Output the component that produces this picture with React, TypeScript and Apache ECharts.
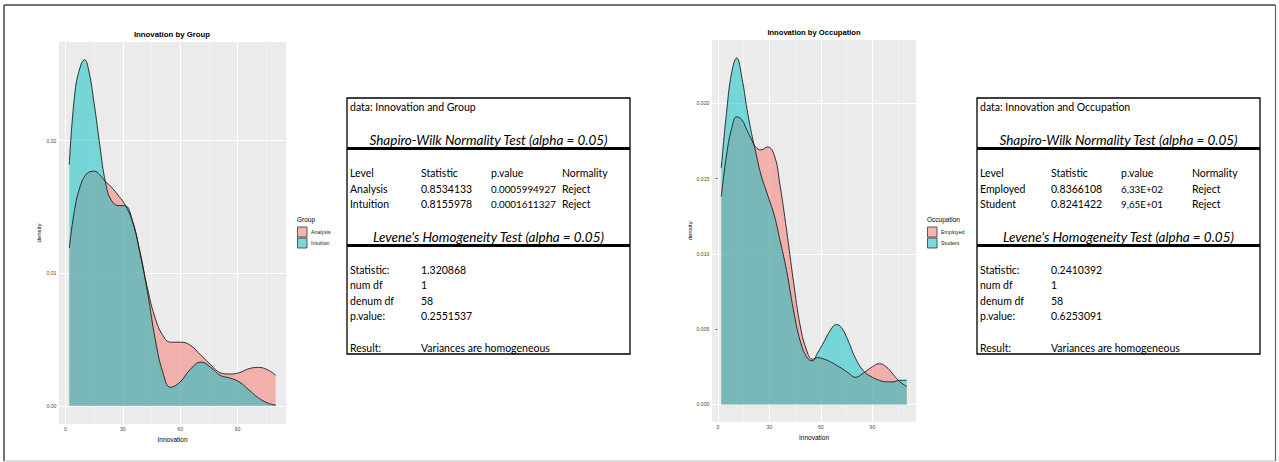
import React, { useEffect, useRef } from "react";
import * as echarts from "echarts";

// ---------- Data: Innovation by Group ----------
const groupX = [2, 5, 8, 10, 12, 15, 18, 21, 24, 28, 31, 35, 39, 43, 47, 51, 55, 60, 65, 71, 76, 81, 86, 91, 96, 101, 106, 110];
const analysisDensity = [0.0119, 0.015, 0.0167, 0.0173, 0.0176, 0.0177, 0.0174, 0.0169, 0.0165, 0.0158, 0.0152, 0.0139, 0.0116, 0.0088, 0.0066, 0.0053, 0.0048, 0.0048, 0.0046, 0.0038, 0.0031, 0.0025, 0.0024, 0.0025, 0.0028, 0.0029, 0.0027, 0.0023];
const intuitionDensity = [0.0182, 0.0237, 0.0257, 0.0261, 0.0254, 0.0228, 0.0196, 0.0168, 0.0155, 0.0151, 0.0151, 0.014, 0.0115, 0.0085, 0.005, 0.0025, 0.0014, 0.0018, 0.0027, 0.0033, 0.0029, 0.0023, 0.0021, 0.0018, 0.0012, 0.0006, 0.0002, 0.00005];

// ---------- Data: Innovation by Occupation ----------
const occX = [2, 5, 8, 11, 14, 17, 20, 22, 25, 29, 33, 36, 40, 44, 48, 52, 55, 58, 62, 66, 69, 72, 76, 80, 85, 90, 94, 98, 102, 106, 110];
const employedDensity = [0.0138, 0.0165, 0.0183, 0.0191, 0.0189, 0.0182, 0.0175, 0.0171, 0.0169, 0.0171, 0.0165, 0.0147, 0.0116, 0.0082, 0.0052, 0.0035, 0.003, 0.0031, 0.003, 0.0028, 0.0026, 0.0024, 0.0021, 0.0018, 0.0021, 0.0025, 0.0027, 0.0025, 0.002, 0.0015, 0.0012];
const studentDensity = [0.0157, 0.0193, 0.022, 0.023, 0.0217, 0.0196, 0.0178, 0.0168, 0.0153, 0.0139, 0.0125, 0.011, 0.0089, 0.0063, 0.0042, 0.0031, 0.0029, 0.0034, 0.0042, 0.005, 0.0053, 0.0051, 0.0042, 0.0031, 0.0022, 0.0018, 0.0016, 0.0015, 0.0015, 0.0016, 0.0016];

// ---------- Axis ticks ----------
const xTicks = [0, 30, 60, 90];
const xMinor = [15, 45, 75, 105];
const groupYTicks = [0, 0.01, 0.02];
const groupYMinor = [0.005, 0.015, 0.025];
const occYTicks = [0, 0.005, 0.01, 0.015, 0.02];
const occYMinor = [0.0025, 0.0075, 0.0125, 0.0175, 0.0225];

// ---------- Table data ----------
const shapiroHeader = ["Level", "Statistic", "p.value", "Normality"];
const leveneLabels = ["Statistic:", "num df", "denum df", "p.value:"];
const groupLevels = ["Analysis", "Intuition"];
const groupStatistic = ["0.8534133", "0.8155978"];
const groupPValue = ["0.0005994927", "0.0001611327"];
const groupNormality = ["Reject", "Reject"];
const groupLevene = ["1.320868", "1", "58", "0.2551537"];
const occLevels = ["Employed", "Student"];
const occStatistic = ["0.8366108", "0.8241422"];
const occPValue = ["6,33E+02", "9,65E+01"];
const occNormality = ["Reject", "Reject"];
const occLevene = ["0.2410392", "1", "58", "0.6253091"];
const leveneResult = "Variances are homogeneous";

const RED = "#F8766D";
const TEAL = "#00BFC4";
const GG_FONT = "'Liberation Sans', Arial, sans-serif";
const TABLE_FONT = "Lato, 'Open Sans', sans-serif";

function zip(xs: number[], ys: number[]) {
  return xs.map((x, i) => [x, ys[i]]);
}

function txt(x: number, y: number, text: string, opts: any = {}) {
  const align = opts.align || "left";
  return {
    type: "text",
    x,
    y,
    silent: true,
    z: 10,
    style: {
      text,
      fontSize: 10.5,
      fontFamily: TABLE_FONT,
      fill: "#000",
      align,
      verticalAlign: "middle",
      textAlign: align,
      textVerticalAlign: "middle",
      ...opts,
    },
  };
}

function buildTable(dx: number, title: string, levels: string[], stats: string[], pvals: string[], norms: string[], levene: string[]) {
  const L = 347 + dx;
  const R = 630 + dx;
  const cols = [350 + dx, 421 + dx, 491 + dx, 562 + dx];
  const els: any[] = [];
  els.push({ type: "rect", z: 9, shape: { x: L, y: 98, width: R - L, height: 256 }, style: { fill: "#fff", stroke: "#000", lineWidth: 1.3 } });
  els.push({ type: "line", z: 9, shape: { x1: L, y1: 148.5, x2: R, y2: 148.5 }, style: { stroke: "#000", lineWidth: 2.8 } });
  els.push({ type: "line", z: 9, shape: { x1: L, y1: 245.5, x2: R, y2: 245.5 }, style: { stroke: "#000", lineWidth: 2.8 } });
  els.push(txt(cols[0], 106.5, title));
  els.push(txt((L + R) / 2, 140, "Shapiro-Wilk Normality Test (alpha = 0.05)", { align: "center", fontSize: 13.5, fontStyle: "italic" }));
  shapiroHeader.forEach((h, i) => els.push(txt(cols[i], 173, h)));
  const rowY = [188.5, 204];
  levels.forEach((lv, r) => {
    els.push(txt(cols[0], rowY[r], lv));
    els.push(txt(cols[1], rowY[r], stats[r]));
    els.push(txt(cols[2], rowY[r], pvals[r], { fontSize: 9.8 }));
    els.push(txt(cols[3], rowY[r], norms[r]));
  });
  els.push(txt((L + R) / 2, 236.5, "Levene's Homogeneity Test (alpha = 0.05)", { align: "center", fontSize: 13.5, fontStyle: "italic" }));
  const levY = [270, 285.3, 300.7, 316];
  leveneLabels.forEach((lb, i) => {
    els.push(txt(cols[0], levY[i], lb));
    els.push(txt(cols[1], levY[i], levene[i]));
  });
  els.push(txt(cols[0], 347.5, "Result:"));
  els.push(txt(cols[1], 347.5, leveneResult));
  return els;
}

function legend(x: number, title: string, labels: string[]) {
  const fills = ["#F5B4B0", "#79D8DB"];
  const els: any[] = [];
  els.push(txt(x, 219, title, { fontFamily: GG_FONT, fontSize: 6.5 }));
  labels.forEach((lb, i) => {
    const y = 227 + i * 11;
    els.push({ type: "rect", z: 10, shape: { x: x + 0.5, y, width: 9.5, height: 10 }, style: { fill: fills[i], stroke: "#333", lineWidth: 0.8 } });
    els.push(txt(x + 14, y + 5, lb, { fontFamily: GG_FONT, fontSize: 5.3, fill: "#1a1a1a" }));
  });
  return els;
}

function gridLines(yMajor: number[], yMinor: number[]) {
  const major = { color: "#FFFFFF", width: 1.1, type: "solid" };
  const minor = { color: "#F7F7F7", width: 0.55, type: "solid" };
  return [
    ...xMinor.map((v) => ({ xAxis: v, lineStyle: minor })),
    ...yMinor.map((v) => ({ yAxis: v, lineStyle: minor })),
    ...xTicks.map((v) => ({ xAxis: v, lineStyle: major })),
    ...yMajor.map((v) => ({ yAxis: v, lineStyle: major })),
  ];
}

function xAxisCfg(gridIndex: number) {
  return {
    type: "value",
    gridIndex,
    min: -3.4,
    max: 115.4,
    name: "Innovation",
    nameLocation: "middle",
    nameGap: 9.5,
    nameTextStyle: { fontFamily: GG_FONT, fontSize: 6.5, color: "#000" },
    axisLine: { show: false },
    axisTick: { show: true, customValues: xTicks, length: 2.5, lineStyle: { color: "#333", width: 0.6 } },
    axisLabel: { customValues: xTicks, fontFamily: GG_FONT, fontSize: 5.2, color: "#4D4D4D", margin: 2.5 },
    splitLine: { show: false },
  };
}

function yAxisCfg(gridIndex: number, min: number, max: number, ticks: number[], digits: number) {
  return {
    type: "value",
    gridIndex,
    min,
    max,
    name: "density",
    nameLocation: "middle",
    nameGap: 17,
    nameRotate: 90,
    nameTextStyle: { fontFamily: GG_FONT, fontSize: 6, color: "#000" },
    axisLine: { show: false },
    axisTick: { show: true, customValues: ticks, length: 2.5, lineStyle: { color: "#333", width: 0.6 } },
    axisLabel: { customValues: ticks, fontFamily: GG_FONT, fontSize: 5.2, color: "#4D4D4D", margin: 2.5, formatter: (v: number) => v.toFixed(digits) },
    splitLine: { show: false },
  };
}

function densitySeries(idx: number, name: string, xs: number[], ys: number[], color: string) {
  return {
    type: "line",
    name,
    xAxisIndex: idx,
    yAxisIndex: idx,
    data: zip(xs, ys),
    smooth: 0.45,
    showSymbol: false,
    symbol: "none",
    z: 3,
    itemStyle: { color },
    lineStyle: { color: "#1e1e1e", width: 0.9 },
    areaStyle: { color, opacity: 0.5 },
  };
}

function gridSeries(idx: number, yMajor: number[], yMinor: number[]) {
  return {
    type: "line",
    xAxisIndex: idx,
    yAxisIndex: idx,
    data: [],
    z: 1,
    silent: true,
    markLine: { z: 1, silent: true, symbol: ["none", "none"], label: { show: false }, data: gridLines(yMajor, yMinor) },
  };
}

export default function App() {
  const ref = useRef<HTMLDivElement>(null);
  useEffect(() => {
    if (!ref.current) return;
    const chart = echarts.init(ref.current, null, { renderer: "svg" });
    const option: any = {
      animation: false,
      grid: [
        { left: 59, top: 42, width: 227, height: 382, show: true, backgroundColor: "#EBEBEB", borderWidth: 0 },
        { left: 712, top: 40, width: 204, height: 381.7, show: true, backgroundColor: "#EBEBEB", borderWidth: 0 },
      ],
      xAxis: [xAxisCfg(0), xAxisCfg(1)],
      yAxis: [
        yAxisCfg(0, -0.00137, 0.02744, groupYTicks, 2),
        yAxisCfg(1, -0.00115, 0.0242, occYTicks, 3),
      ],
      series: [
        gridSeries(0, groupYTicks, groupYMinor),
        gridSeries(1, occYTicks, occYMinor),
        densitySeries(0, "Analysis", groupX, analysisDensity, RED),
        densitySeries(0, "Intuition", groupX, intuitionDensity, TEAL),
        densitySeries(1, "Employed", occX, employedDensity, RED),
        densitySeries(1, "Student", occX, studentDensity, TEAL),
      ],
      graphic: {
        elements: [
          { type: "line", z: 10, shape: { x1: 4, y1: 5, x2: 1275.5, y2: 5 }, style: { stroke: "#444", lineWidth: 1.5 } },
          { type: "line", z: 10, shape: { x1: 4, y1: 5, x2: 4, y2: 461 }, style: { stroke: "#444", lineWidth: 1.5 } },
          { type: "line", z: 10, shape: { x1: 1275.5, y1: 5, x2: 1275.5, y2: 461 }, style: { stroke: "#666", lineWidth: 1.2 } },
          { type: "line", z: 10, shape: { x1: 4, y1: 461, x2: 1275.5, y2: 461 }, style: { stroke: "#bbb", lineWidth: 1.2 } },
          txt(172, 34, "Innovation by Group", { align: "center", fontFamily: GG_FONT, fontSize: 7.8, fontWeight: "bold" }),
          txt(814, 32, "Innovation by Occupation", { align: "center", fontFamily: GG_FONT, fontSize: 7.6, fontWeight: "bold" }),
          ...legend(297, "Group", groupLevels),
          ...legend(927, "Occupation", occLevels),
          ...buildTable(0, "data: Innovation and Group", groupLevels, groupStatistic, groupPValue, groupNormality, groupLevene),
          ...buildTable(630, "data: Innovation and Occupation", occLevels, occStatistic, occPValue, occNormality, occLevene),
        ],
      },
    };
    chart.setOption(option);
    return () => chart.dispose();
  }, []);
  return <div ref={ref} style={{ position: "fixed", left: 0, top: 0, width: 1279, height: 462, background: "#fff" }} />;
}
